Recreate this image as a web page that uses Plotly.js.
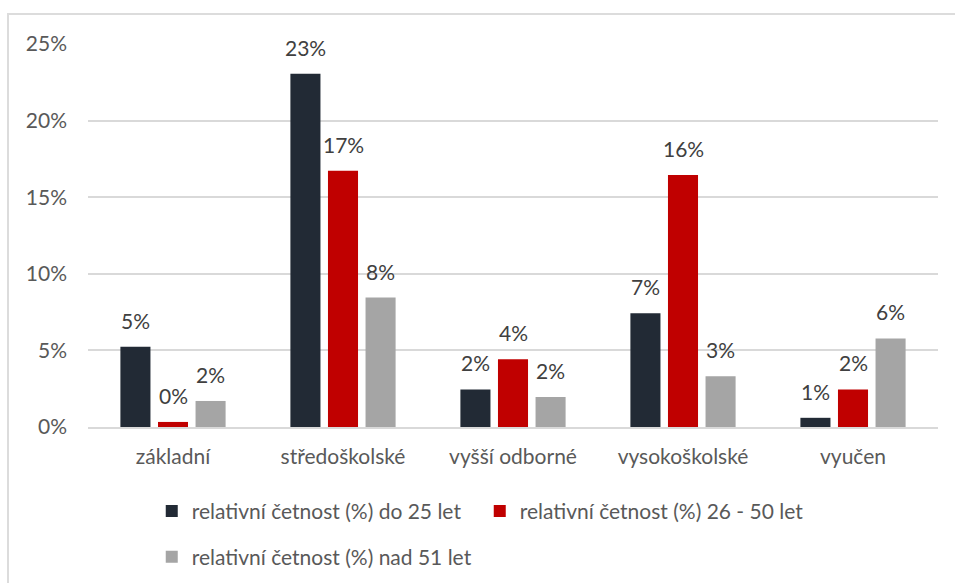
<!DOCTYPE html>
<html>
<head>
<meta charset="utf-8">
<script src="https://cdn.plot.ly/plotly-3.0.1.min.js"></script>
<style>
  html, body { margin: 0; padding: 0; background: #ffffff; }
  #wrap { position: relative; width: 955px; height: 583px; overflow: hidden; }
  #chart { position: absolute; left: 0; top: 0; width: 955px; height: 583px; }
  #frame { position: absolute; left: 7px; top: 13px; width: 960px; height: 600px;
           border-left: 2px solid #dcdcdc; border-top: 2px solid #dcdcdc; pointer-events: none; }
</style>
</head>
<body>
<div id="wrap">
  <div id="chart"></div>
  <div id="frame"></div>
</div>
<script>
const categories = ["základní", "středoškolské", "vyšší odborné", "vysokoškolské", "vyučen"];
const seriesNames = [
  "relativní četnost (%) do 25 let",
  "relativní četnost (%) 26 - 50 let",
  "relativní četnost (%) nad 51 let"
];
const under25 = [5.24, 23.05, 2.45, 7.42, 0.6];
const age26to50 = [0.33, 16.72, 4.43, 16.45, 2.45];
const over51 = [1.7, 8.45, 1.96, 3.32, 5.78];
const yTicks = [0, 5, 10, 15, 20, 25];

const colors = ["#222a35", "#c00000", "#a5a5a5"];
const allSeries = [under25, age26to50, over51];

const FONT = "Lato, 'Open Sans', sans-serif";
const FS = 21;
const W = 955, H = 583;
const margin = {l: 88, r: 17, t: 44, b: 156, autoexpand: false};
const bargap = 0.337;
const plotW = W - margin.l - margin.r;
const slot = plotW / categories.length * (1 - bargap) / allSeries.length;

const traces = allSeries.map((vals, i) => ({
  type: "bar",
  name: seriesNames[i],
  x: categories,
  y: vals,
  marker: {color: colors[i]},
  legend: i < 2 ? "legend" : "legend2",
  hoverinfo: "skip"
}));

const annotations = [];
allSeries.forEach((vals, i) => {
  vals.forEach((v, j) => {
    annotations.push({
      x: categories[j], y: v, xref: "x", yref: "y",
      text: Math.round(v) + "%",
      showarrow: false,
      xanchor: "center", yanchor: "bottom",
      xshift: (i - 1) * slot,
      yshift: 12,
      font: {family: FONT, size: FS, color: "#404040"}
    });
  });
});

const legendFont = {family: FONT, size: FS, color: "#595959"};

const layout = {
  width: W, height: H,
  margin: margin,
  paper_bgcolor: "rgba(0,0,0,0)",
  plot_bgcolor: "#ffffff",
  barmode: "group",
  bargap: bargap,
  bargroupgap: 0.2,
  showlegend: true,
  font: {family: FONT, size: FS, color: "#595959"},
  xaxis: {
    type: "category",
    showgrid: false,
    showline: true, linecolor: "#d9d9d9", linewidth: 2,
    ticks: "", ticklabelstandoff: 10,
    tickfont: {family: FONT, size: FS, color: "#595959"},
    fixedrange: true
  },
  yaxis: {
    range: [0, 25],
    tickvals: yTicks,
    ticktext: yTicks.map(t => t + "%"),
    showgrid: true, gridcolor: "#d9d9d9", gridwidth: 2,
    zeroline: false, showline: false,
    ticks: "", ticklabelstandoff: 20,
    tickfont: {family: FONT, size: FS, color: "#595959"},
    fixedrange: true
  },
  legend: {
    orientation: "h", x: 0.075, xanchor: "left", y: -0.22, yanchor: "middle",
    font: legendFont, entrywidth: 283,
    bgcolor: "rgba(0,0,0,0)", itemclick: false, itemdoubleclick: false
  },
  legend2: {
    orientation: "h", x: 0.075, xanchor: "left", y: -0.34, yanchor: "middle",
    font: legendFont,
    bgcolor: "rgba(0,0,0,0)", itemclick: false, itemdoubleclick: false
  },
  annotations: annotations
};

Plotly.newPlot("chart", traces, layout, {displayModeBar: false, staticPlot: true});
</script>
</body>
</html>
